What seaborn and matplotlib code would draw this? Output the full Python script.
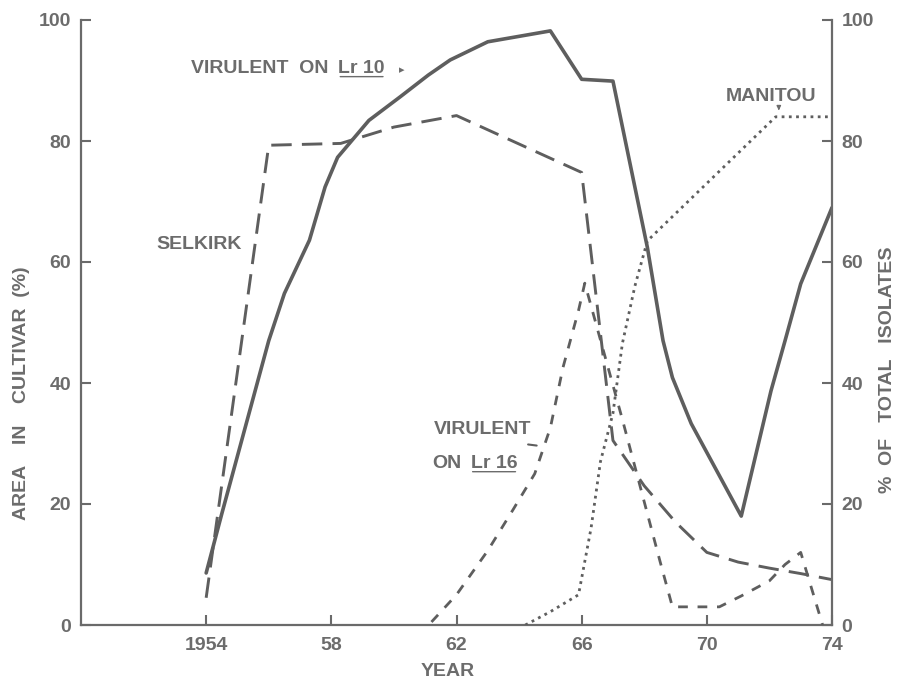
import numpy as np
import pandas as pd
import matplotlib
matplotlib.use("Agg")
import matplotlib.pyplot as plt
import seaborn as sns

# ---------------- data ----------------
lr10_years = [1954, 1954.5, 1956, 1956.5, 1957.3, 1957.8, 1958.2, 1959.2, 1960.2,
              1961.1, 1961.8, 1963, 1965, 1966, 1967, 1968.1, 1968.6, 1968.9,
              1969.5, 1971.1, 1972.05, 1972.5, 1973, 1974]
lr10_vals = [8.6, 18.4, 47, 54.8, 63.6, 72.4, 77.3, 83.4, 87.3,
             90.9, 93.4, 96.4, 98.2, 90.2, 89.9, 62.4, 47, 40.9,
             33.3, 18, 38.7, 47, 56.4, 69]

selkirk_years = [1954, 1956, 1958.3, 1960, 1962, 1966, 1967, 1968, 1969, 1970, 1971, 1972, 1973, 1974]
selkirk_vals = [4.5, 79.3, 79.6, 82.3, 84.2, 74.8, 30.5, 23, 17, 12, 10.4, 9.4, 8.5, 7.5]

lr16_years = [1961.2, 1962, 1963, 1963.8, 1964.5, 1965, 1965.4, 1965.9, 1966.1,
              1967.3, 1968.5, 1968.9, 1970.4, 1971.1, 1972, 1972.5, 1973, 1973.7]
lr16_vals = [0.5, 5, 12.3, 19, 25, 32.6, 42.5, 52, 56.5,
             34, 10.6, 3, 3, 4.8, 7.3, 10, 12, 0]

manitou_years = [1964.2, 1965, 1965.9, 1966.3, 1966.6, 1967.0, 1967.3, 1967.7, 1968.1, 1972.2, 1974]
manitou_vals = [0, 2.2, 5, 16, 27, 35, 46.5, 56, 63.5, 84, 84]

x_ticks = [1954, 1958, 1962, 1966, 1970, 1974]
x_ticklabels = ["1954", "58", "62", "66", "70", "74"]
y_ticks = [0, 20, 40, 60, 80, 100]

# ---------------- style ----------------
sns.set_style("white")
plt.rcParams['font.family'] = ['Liberation Sans', 'DejaVu Sans']
TXT = "#6c6c6c"
LINE = "#5e5e5e"
FS = 14

fig = plt.figure(figsize=(9.02, 6.82), dpi=100)
ax = fig.add_axes([81/902, 1-625/682, (832-81)/902, (625-20)/682])
ax2 = ax.twinx()

df_lr10 = pd.DataFrame({"year": lr10_years, "value": lr10_vals})
df_sel = pd.DataFrame({"year": selkirk_years, "value": selkirk_vals})
df_lr16 = pd.DataFrame({"year": lr16_years, "value": lr16_vals})
df_man = pd.DataFrame({"year": manitou_years, "value": manitou_vals})

sns.lineplot(data=df_lr10, x="year", y="value", ax=ax, sort=False, color=LINE,
             lw=2.6, estimator=None)
sns.lineplot(data=df_sel, x="year", y="value", ax=ax, sort=False, color=LINE,
             lw=2.1, estimator=None).lines[-1].set_dashes([7, 3.5])
sns.lineplot(data=df_lr16, x="year", y="value", ax=ax2, sort=False, color=LINE,
             lw=2.0, estimator=None).lines[-1].set_dashes([3.5, 3.5])
man = sns.lineplot(data=df_man, x="year", y="value", ax=ax2, sort=False, color=LINE,
                   lw=2.0, estimator=None).lines[-1]
man.set_dashes([1, 1.6])

for a in (ax, ax2):
    a.set_xlim(1950, 1974)
    a.set_ylim(0, 100)
    a.set_xlabel("")
    a.set_ylabel("")
    for s in a.spines.values():
        s.set_color("#6a6a6a")
        s.set_linewidth(1.6)
    a.spines["top"].set_visible(False)

ax.spines["right"].set_visible(False)
ax2.spines["left"].set_visible(False)
ax2.spines["bottom"].set_visible(False)

ax.set_xticks(x_ticks)
ax.set_xticklabels(x_ticklabels)
ax.set_yticks(y_ticks)
ax2.set_yticks(y_ticks)
ax.tick_params(axis="both", direction="in", length=7, width=1.5, color="#6a6a6a",
               labelcolor=TXT, labelsize=FS, left=True, bottom=True)
ax.tick_params(axis="x", pad=9)
ax.tick_params(axis="y", pad=7)
ax2.tick_params(axis="y", direction="in", length=7, width=1.5, color="#6a6a6a",
                labelcolor=TXT, labelsize=FS, right=True, pad=7)
for lab in ax.get_xticklabels() + ax.get_yticklabels() + ax2.get_yticklabels():
    lab.set_fontweight("bold")

# axis titles
fig.text(22/902, 1-393/682, "AREA    IN    CULTIVAR  (%)", rotation=90, ha="center",
         va="center", color=TXT, fontsize=FS, fontweight="bold")
fig.text(888/902, 1-370/682, "%  OF   TOTAL   ISOLATES", rotation=90, ha="center",
         va="center", color=TXT, fontsize=FS, fontweight="bold")
fig.text(448/902, 1-671/682, "YEAR", ha="center", va="center", color=TXT,
         fontsize=FS, fontweight="bold")

tk = dict(color=TXT, fontsize=FS, fontweight="bold")


def underlined(prefix, ul, x, y):
    t1 = ax.text(x, y, prefix, ha="left", va="baseline", **tk)
    t2 = ax.annotate(ul, xy=(1, 0), xycoords=t1, xytext=(7, 0),
                     textcoords="offset points", ha="left", va="bottom", **tk)
    ax.annotate("", xy=(-0.02, 0.0), xycoords=t2, xytext=(1.02, 0.0),
                textcoords=t2, arrowprops=dict(arrowstyle="-", color=TXT, lw=1.0))
    return t2


# VIRULENT ON Lr 10
t = underlined("VIRULENT  ON", "Lr 10", 1953.52, 91.3)
ax.annotate("▸", xy=(1, 0.1), xycoords=t, xytext=(10, 0), textcoords="offset points",
            ha="left", va="bottom", color=TXT, fontsize=8,
            family=["DejaVu Sans"])

ax.text(1952.4, 62.9, "SELKIRK", ha="left", va="center", **tk)

ax.text(1970.62, 87.3, "MANITOU", ha="left", va="center", **tk)
ax.annotate("", xy=(1972.3, 84.6), xytext=(1972.3, 86.0),
            arrowprops=dict(arrowstyle="-|>", color=TXT, lw=1.0, mutation_scale=6))

ax.text(1961.27, 32.3, "VIRULENT", ha="left", va="center", **tk)
underlined("ON", "Lr 16", 1961.21, 26.0)
ax.annotate("", xy=(1964.65, 29.6), xytext=(1964.2, 29.9),
            arrowprops=dict(arrowstyle="-", color=LINE, lw=1.5))

fig.savefig("out.png", dpi=100, facecolor="white")
